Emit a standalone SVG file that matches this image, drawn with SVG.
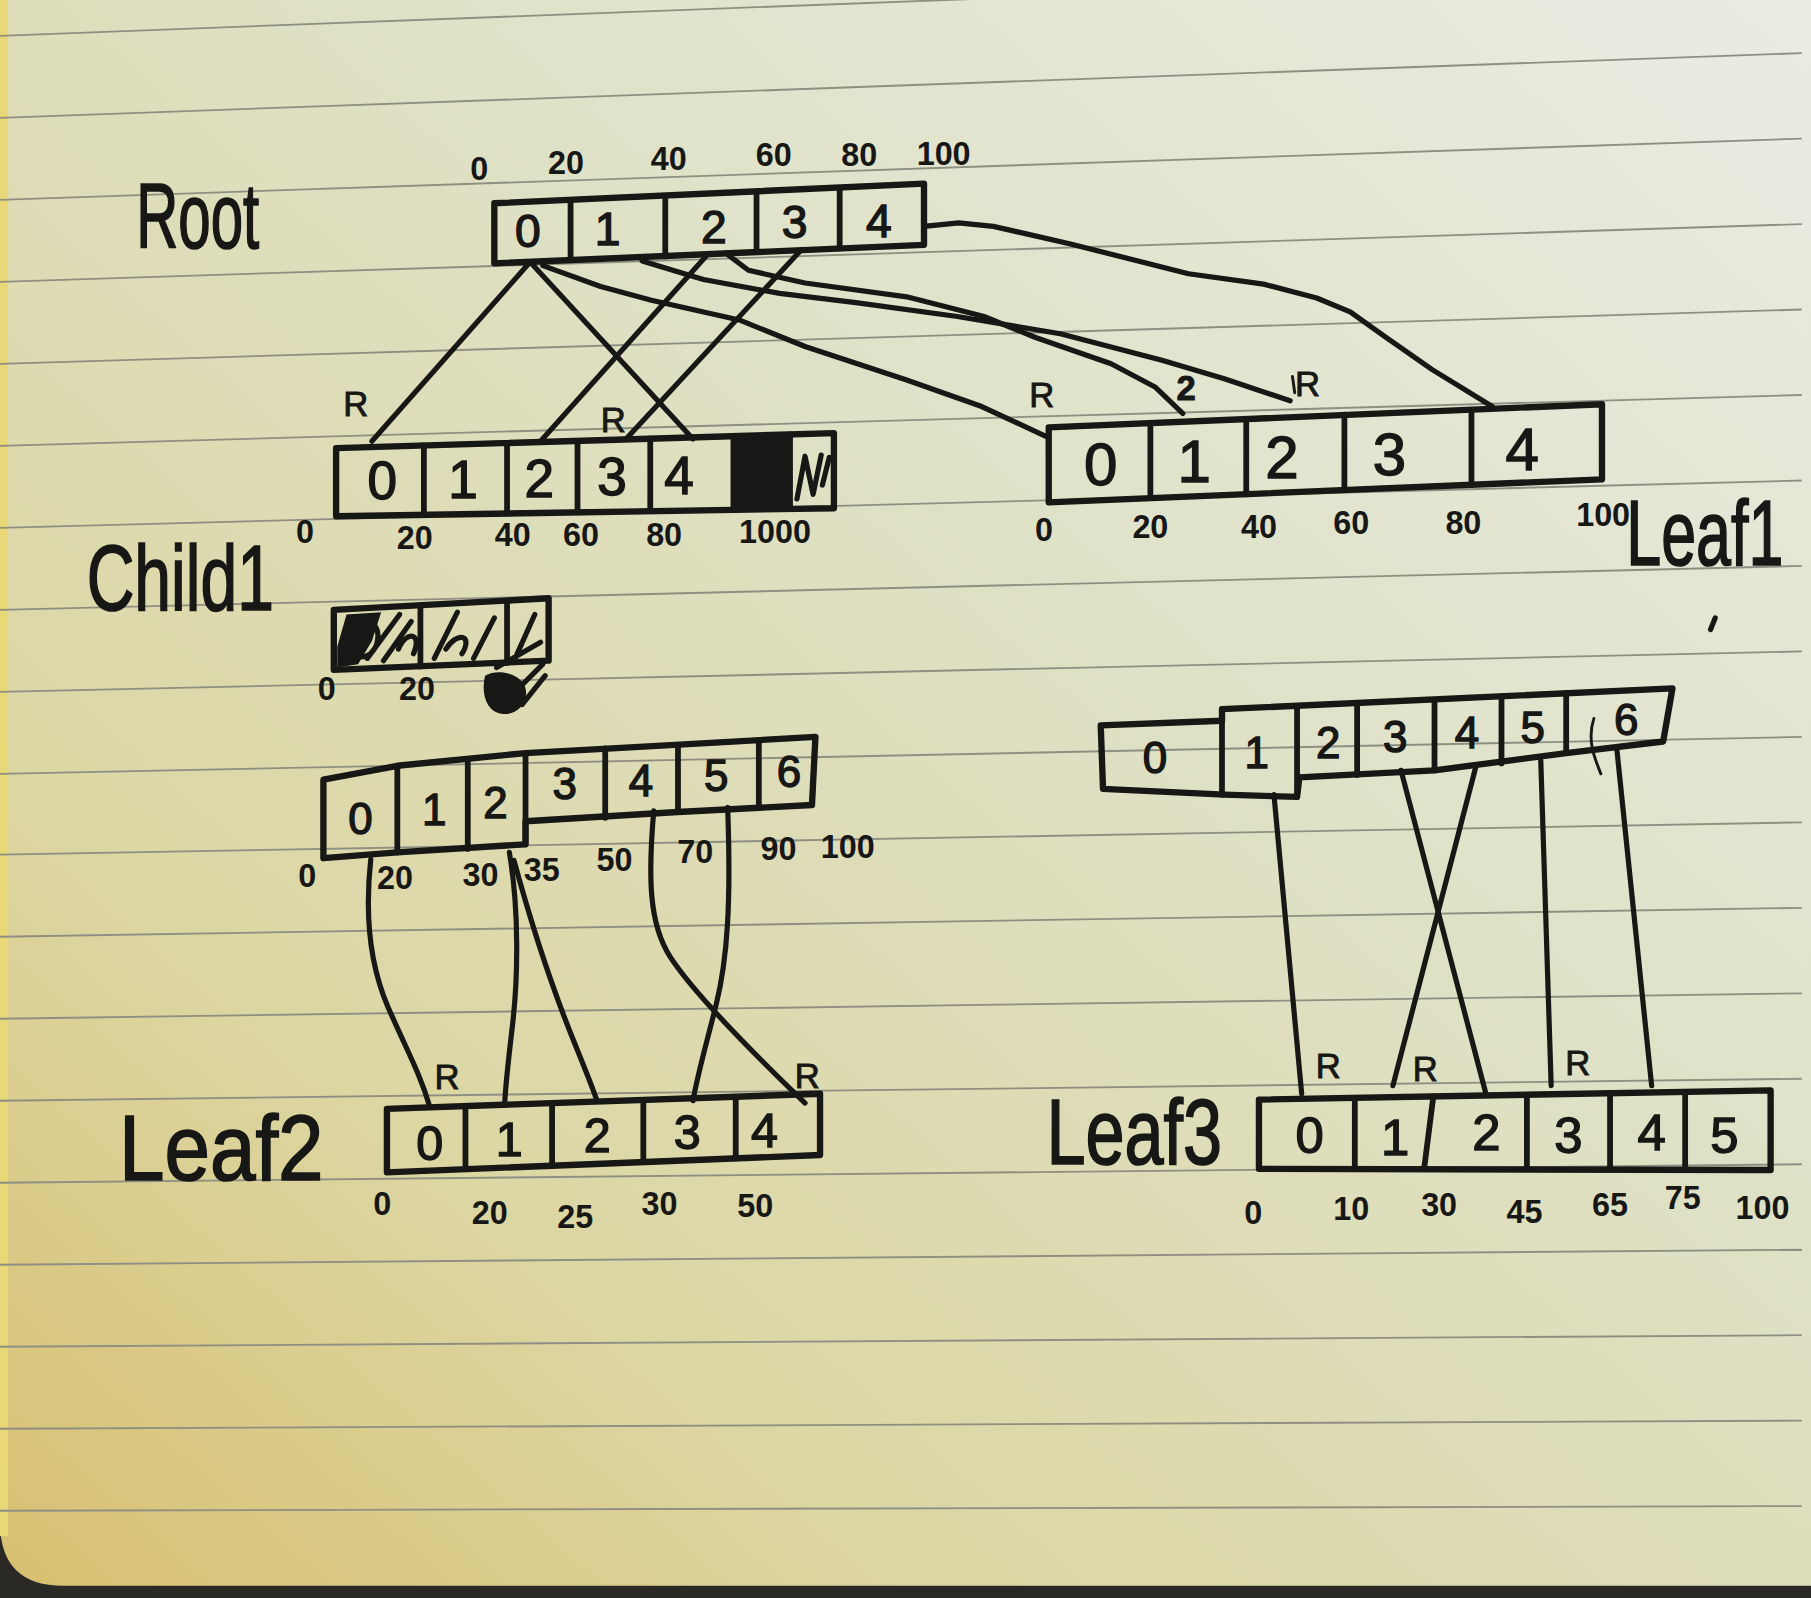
<svg xmlns="http://www.w3.org/2000/svg" width="1811" height="1598" viewBox="0 0 1811 1598">
<defs>
<linearGradient id="paper" x1="0" y1="1" x2="1" y2="0">
<stop offset="0" stop-color="#d8bf70"/>
<stop offset="0.25" stop-color="#dcd6a2"/>
<stop offset="0.6" stop-color="#dfe1c6"/>
<stop offset="1" stop-color="#e9ece3"/>
</linearGradient>
<style>
.rule{fill:none;stroke:#8d8f82;stroke-width:1.6}
.box{fill:none;stroke:#171715;stroke-width:5.5;stroke-linejoin:round;stroke-linecap:round}
.div{fill:none;stroke:#171715;stroke-width:5;stroke-linecap:round}
.ink{fill:none;stroke:#171715;stroke-width:4.5;stroke-linecap:round;stroke-linejoin:round}
.thin{fill:none;stroke:#171715;stroke-width:2.5;stroke-linecap:round}
text{font-family:"Liberation Sans","DejaVu Sans",sans-serif;fill:#171715}
.title{font-size:80px;stroke:#171715;stroke-width:1.5}
.cell{text-anchor:middle;stroke:#171715;stroke-width:1.2}
.num{font-size:28px;font-weight:bold;text-anchor:middle}
.r{font-size:30px;text-anchor:middle;stroke:#171715;stroke-width:0.8}
</style>
</defs>
<rect width="1811" height="1598" fill="#2b2925"/>
<g transform="scale(1.155)">
<path d="M0,0 H1568 V1373 H55 Q0,1373 0,1318 Z" fill="url(#paper)"/>
<rect x="0" y="0" width="7" height="1330" fill="#e8d878"/>
<g id="rules">
<line class="rule" x1="0" y1="31" x2="1560" y2="-28"/>
<line class="rule" x1="0" y1="102" x2="1560" y2="46"/>
<line class="rule" x1="0" y1="173" x2="1560" y2="120"/>
<line class="rule" x1="0" y1="244" x2="1560" y2="194"/>
<line class="rule" x1="0" y1="315" x2="1560" y2="268"/>
<line class="rule" x1="0" y1="386" x2="1560" y2="342"/>
<line class="rule" x1="0" y1="457" x2="1560" y2="416"/>
<line class="rule" x1="0" y1="528" x2="1560" y2="490"/>
<line class="rule" x1="0" y1="599" x2="1560" y2="564"/>
<line class="rule" x1="0" y1="670" x2="1560" y2="638"/>
<line class="rule" x1="0" y1="740" x2="1560" y2="712"/>
<line class="rule" x1="0" y1="811" x2="1560" y2="786"/>
<line class="rule" x1="0" y1="882" x2="1560" y2="860"/>
<line class="rule" x1="0" y1="953" x2="1560" y2="934"/>
<line class="rule" x1="0" y1="1024" x2="1560" y2="1008"/>
<line class="rule" x1="0" y1="1095" x2="1560" y2="1082"/>
<line class="rule" x1="0" y1="1166" x2="1560" y2="1156"/>
<line class="rule" x1="0" y1="1237" x2="1560" y2="1230"/>
<line class="rule" x1="0" y1="1308" x2="1560" y2="1304"/>
</g>

<g id="connectors">
<path class="ink" d="M458,228 L322,382"/>
<path class="ink" d="M460,228 L600,380"/>
<path class="ink" d="M612,221 L468,382"/>
<path class="ink" d="M694,216 L542,380"/>
<polyline class="ink" points="470,230 520,248 564,260 640,277 697,300 785,329 850,352 906,378"/>
<polyline class="ink" points="556,226 609,242 675,254 741,262 829,274 918,289 1006,312 1060,328 1117,347"/>
<polyline class="ink" points="628,219 648,234 697,245 785,257 852,274 896,292 962,315 1000,335 1024,358"/>
<polyline class="ink" points="800,196 830,193 860,196 926,211 1029,237 1094,246 1140,258 1169,270 1200,292 1240,320 1292,352"/>
<path class="ink" d="M321,744 C316,790 320,835 336,872 S364,930 372,958"/>
<path class="ink" d="M441,738 C450,790 448,850 444,885 S438,935 437,955"/>
<path class="ink" d="M445,745 C460,800 480,860 497,902 S512,940 517,953"/>
<path class="ink" d="M566,702 C561,760 562,800 580,828 S645,905 697,955"/>
<path class="ink" d="M630,699 C633,780 630,830 620,870 S604,930 600,953"/>
<path class="ink" d="M1103,688 L1127,947"/>
<path class="ink" d="M1213,667 L1286,945"/>
<path class="ink" d="M1278,663 L1206,940"/>
<path class="ink" d="M1334,658 L1343,940"/>
<path class="ink" d="M1400,650 L1430,940"/>
<text class="r" x="308" y="360" font-size="34">R</text>
<text class="r" x="531" y="374" font-size="26">R</text>
<text class="r" x="902" y="352" font-size="26">R</text>
<text class="r" x="1027" y="346" font-size="16" font-weight="bold">2</text>
<path class="thin" d="M1119,326 L1121,340"/>
<text class="r" x="1132" y="343" font-size="30">R</text>
<text class="r" x="387" y="943" font-size="28">R</text>
<text class="r" x="699" y="942" font-size="28">R</text>
<text class="r" x="1150" y="933" font-size="30">R</text>
<text class="r" x="1234" y="936" font-size="30">R</text>
<text class="r" x="1366" y="931" font-size="30">R</text>
</g>

<g id="root">
<text class="title" transform="translate(118,215) scale(0.63,1)" font-size="86">Root</text>
<polygon class="box" points="428,176 800,159 800,212 428,228"/>
<path class="div" d="M494,173 V225 M576,170 V222 M655,166 V218 M727,163 V215"/>
<text class="cell" x="457" y="214" font-size="40">0</text>
<text class="cell" x="526" y="212" font-size="40">1</text>
<text class="cell" x="618" y="210" font-size="40">2</text>
<text class="cell" x="688" y="206" font-size="40">3</text>
<text class="cell" x="761" y="205" font-size="40">4</text>
<text class="num" x="415" y="156" font-size="26">0</text>
<text class="num" x="490" y="151" font-size="32">20</text>
<text class="num" x="579" y="147" font-size="32">40</text>
<text class="num" x="670" y="144" font-size="32">60</text>
<text class="num" x="744" y="144" font-size="32">80</text>
<text class="num" x="817" y="143" font-size="32">100</text>
</g>

<g id="child1">
<text class="title" transform="translate(75,528) scale(0.715,1)">Child1</text>
<path d="M635,377.6 L684,376.1 L684,440.6 L635,441.4 Z" fill="#171715"/>
<polygon class="box" points="291,388 722,375 722,440 291,447"/>
<path class="div" d="M367,385.7 V445.8 M439,383.5 V444.6 M500,381.7 V443.6 M563,379.8 V442.6 M635,377.6 V441.4 M684,376.1 V440.6"/>
<path class="ink" d="M690,432 L697,395 L704,428 L711,394 M712,420 L718,396"/>
<text class="cell" x="331" y="432" font-size="46">0</text>
<text class="cell" x="401" y="431" font-size="46">1</text>
<text class="cell" x="467" y="430" font-size="46">2</text>
<text class="cell" x="530" y="429" font-size="46">3</text>
<text class="cell" x="588" y="428" font-size="46">4</text>
<text class="num" x="264" y="470" font-size="24">0</text>
<text class="num" x="359" y="475">20</text>
<text class="num" x="444" y="473">40</text>
<text class="num" x="503" y="473">60</text>
<text class="num" x="575" y="473">80</text>
<text class="num" x="671" y="470">1000</text>
</g>

<g id="scratch">
<polygon class="box" points="289,528 475,518 475,572 289,580"/>
<path class="div" d="M364,524 V577 M439,520 V574"/>
<path d="M292,560 L300,532 L330,530 L322,555 L310,575 L292,578 Z" fill="#171715"/>
<path class="ink" d="M300,545 C315,532 332,538 326,558 C320,575 300,570 306,555 M318,570 L346,532 M332,572 L356,538 M345,562 C352,545 366,548 358,566 M376,570 L396,530 M386,562 C396,546 410,550 400,566 M410,570 L428,535 M446,570 L463,532 M430,578 L468,556"/>
<path d="M420,585 C432,578 452,584 455,596 C458,610 446,620 434,618 C422,616 416,602 420,585 Z" fill="#171715"/>
<path class="ink" d="M445,600 L470,575 M452,610 L472,585"/>
<text class="num" x="283" y="606" font-size="24">0</text>
<text class="num" x="361" y="606">20</text>
</g>

<g id="child2">
<path class="box" d="M280,675 L344,663 L455,652 L530,648 L706,638 L703,697 L587,703 L455,711 L455,731 L344,738 L280,743 Z"/>
<path class="div" d="M344,663 V738 M405,658 V735 M455,652 V731 M524,648 V708 M587,645 V703 M657,641 V699"/>
<text class="cell" x="312" y="722" font-size="38">0</text>
<text class="cell" x="376" y="714" font-size="38">1</text>
<text class="cell" x="429" y="708" font-size="38">2</text>
<text class="cell" x="489" y="692" font-size="38">3</text>
<text class="cell" x="555" y="689" font-size="38">4</text>
<text class="cell" x="620" y="685" font-size="38">5</text>
<text class="cell" x="683" y="681" font-size="38">6</text>
<text class="num" x="266" y="768" font-size="24">0</text>
<text class="num" x="342" y="770">20</text>
<text class="num" x="416" y="767">30</text>
<text class="num" x="469" y="763">35</text>
<text class="num" x="532" y="754">50</text>
<text class="num" x="602" y="747">70</text>
<text class="num" x="674" y="745">90</text>
<text class="num" x="734" y="743">100</text>
</g>

<g id="leaf1">
<polygon class="box" points="908,370 1387,350 1387,415 908,435"/>
<path class="div" d="M996,366 V431 M1079,363 V428 M1164,359 V424 M1274,355 V420"/>
<text class="cell" x="953" y="420" font-size="52">0</text>
<text class="cell" x="1034" y="417" font-size="52">1</text>
<text class="cell" x="1110" y="414" font-size="52">2</text>
<text class="cell" x="1203" y="411" font-size="52">3</text>
<text class="cell" x="1318" y="407" font-size="52">4</text>
<text class="num" x="904" y="468" font-size="24">0</text>
<text class="num" x="996" y="466" font-size="24">20</text>
<text class="num" x="1090" y="466">40</text>
<text class="num" x="1170" y="462">60</text>
<text class="num" x="1267" y="462">80</text>
<text class="num" x="1388" y="455" font-size="12">100</text>
<text class="title" transform="translate(1408,489) scale(0.68,1)" font-size="82">Leaf1</text>
</g>

<g id="leaf2">
<text class="title" transform="translate(103,1022) scale(0.885,1)">Leaf2</text>
<polygon class="box" points="335,960 710,947 710,1000 335,1015"/>
<path class="div" d="M403,957.6 V1012.3 M478,955 V1009.3 M557,952.3 V1006.1 M637,949.5 V1002.9"/>
<text class="cell" x="372" y="1004" font-size="42">0</text>
<text class="cell" x="441" y="1001" font-size="42">1</text>
<text class="cell" x="517" y="997" font-size="42">2</text>
<text class="cell" x="595" y="995" font-size="42">3</text>
<text class="cell" x="662" y="993" font-size="42">4</text>
<text class="num" x="331" y="1052" font-size="26">0</text>
<text class="num" x="424" y="1060" font-size="38">20</text>
<text class="num" x="498" y="1063" font-size="40">25</text>
<text class="num" x="571" y="1052" font-size="38">30</text>
<text class="num" x="654" y="1054" font-size="38">50</text>
</g>

<g id="child3">
<path class="box" d="M953,628 L1058,624 L1058,614 L1448,596 L1440,642 L1356,652 L1242,667 L1125,673 L1123,690 L1060,688 L955,683 Z"/>
<path class="div" d="M1058,614 V688 M1123,612 V690 M1175,609 V671 M1242,606 V667 M1300,603 V661 M1356,600 V652"/>
<path class="thin" d="M1380,622 C1374,640 1380,655 1386,670"/>
<text class="cell" x="1000" y="669" font-size="38">0</text>
<text class="cell" x="1088" y="665" font-size="38">1</text>
<text class="cell" x="1150" y="656" font-size="38">2</text>
<text class="cell" x="1208" y="651" font-size="38">3</text>
<text class="cell" x="1270" y="648" font-size="38">4</text>
<text class="cell" x="1327" y="643" font-size="38">5</text>
<text class="cell" x="1408" y="636" font-size="38">6</text>
</g>

<g id="leaf3">
<text class="title" transform="translate(906,1008) scale(0.76,1)">Leaf3</text>
<polygon class="box" points="1090,952 1533,944 1533,1013 1090,1012"/>
<path class="div" d="M1173,950.5 V1012 M1241,949 L1233,1012 M1322,948 V1012 M1394,946.5 V1012 M1459,945.5 V1013"/>
<text class="cell" x="1134" y="998" font-size="44">0</text>
<text class="cell" x="1208" y="1000" font-size="44">1</text>
<text class="cell" x="1287" y="996" font-size="44">2</text>
<text class="cell" x="1358" y="998" font-size="44">3</text>
<text class="cell" x="1430" y="996" font-size="44">4</text>
<text class="cell" x="1493" y="998" font-size="44">5</text>
<text class="num" x="1085" y="1060" font-size="30">0</text>
<text class="num" x="1170" y="1056" font-size="22">10</text>
<text class="num" x="1246" y="1053" font-size="28">30</text>
<text class="num" x="1320" y="1059" font-size="28">45</text>
<text class="num" x="1394" y="1053" font-size="30">65</text>
<text class="num" x="1457" y="1047" font-size="20">75</text>
<text class="num" x="1526" y="1055" font-size="20">100</text>
</g>
<path class="ink" d="M1481,545 L1485,535"/>
</g>
</svg>
